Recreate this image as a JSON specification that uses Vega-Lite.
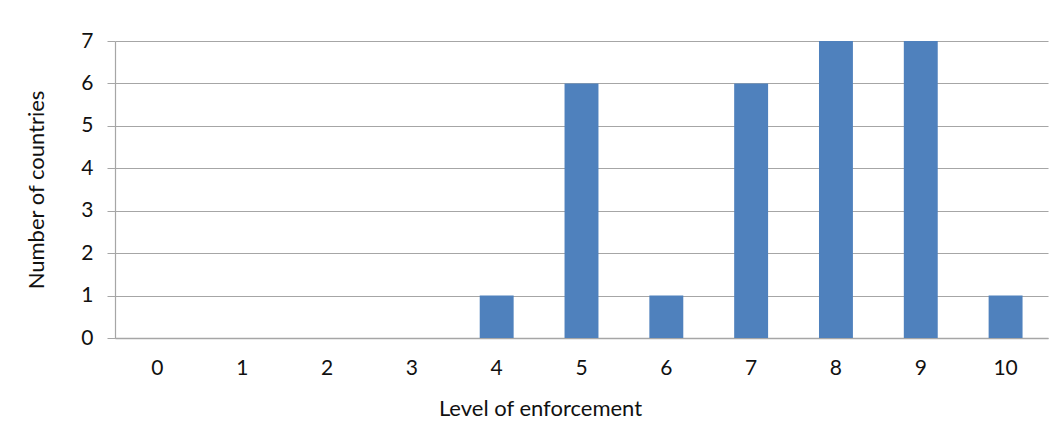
{
  "$schema": "https://vega.github.io/schema/vega-lite/v6.json",
  "autosize": {"type": "none"},
  "width": 933,
  "height": 297,
  "padding": {"left": 115, "top": 41, "right": 16, "bottom": 109},
  "background": "white",
  "config": {
    "view": {"stroke": null},
    "font": "Lato",
    "axis": {"labelFont": "Lato", "titleFont": "Lato", "labelColor": "#111111", "titleColor": "#111111", "titleFontWeight": "normal"}
  },
  "data": {
    "values": [
      {"level": "0", "count": 0},
      {"level": "1", "count": 0},
      {"level": "2", "count": 0},
      {"level": "3", "count": 0},
      {"level": "4", "count": 1},
      {"level": "5", "count": 6},
      {"level": "6", "count": 1},
      {"level": "7", "count": 6},
      {"level": "8", "count": 7},
      {"level": "9", "count": 7},
      {"level": "10", "count": 1}
    ]
  },
  "mark": {"type": "bar", "color": "#4F81BD"},
  "encoding": {
    "x": {
      "field": "level",
      "type": "ordinal",
      "sort": null,
      "scale": {"paddingInner": 0.6, "paddingOuter": 0.3},
      "axis": {
        "title": "Level of enforcement",
        "titleFontSize": 22,
        "titleX": 425,
        "titlePadding": 20,
        "labelFontSize": 21,
        "labelAngle": 0,
        "labelPadding": 19,
        "ticks": false,
        "domainColor": "#a6a6a6",
        "domainWidth": 1.5,
        "grid": false
      }
    },
    "y": {
      "field": "count",
      "type": "quantitative",
      "scale": {"domain": [0, 7], "nice": false},
      "axis": {
        "title": "Number of countries",
        "titleFontSize": 22,
        "titlePadding": 32,
        "labelFontSize": 21,
        "values": [0, 1, 2, 3, 4, 5, 6, 7],
        "tickSize": 8,
        "tickColor": "#a6a6a6",
        "labelPadding": 14,
        "domainColor": "#a6a6a6",
        "domainWidth": 1.2,
        "gridColor": "#a6a6a6",
        "gridWidth": 1.2,
        "gridOpacity": 1
      }
    }
  }
}
